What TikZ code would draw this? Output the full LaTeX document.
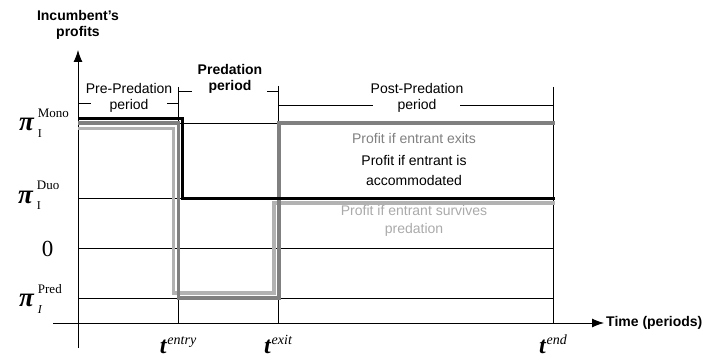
\documentclass[tikz,border=0pt]{standalone}
\usepackage{fontspec}
\setmainfont{Liberation Serif}
\setsansfont{Liberation Sans}
\usetikzlibrary{arrows.meta}
\definecolor{dgray}{RGB}{128,128,128}
\definecolor{lgray}{RGB}{178,178,178}
\definecolor{dgraytext}{RGB}{128,128,128}
\definecolor{lgraytext}{RGB}{170,170,170}
\newcommand\pilabel[2]{{\fontsize{27}{27}\selectfont\bfseries\itshape π}\kern4pt\rlap{\raisebox{13.5pt}{\fontsize{13}{13}\selectfont #1}}\raisebox{-6.5pt}{\fontsize{12}{12}\selectfont #2}}
\newcommand\tlabel[1]{{\fontsize{24}{24}\selectfont\bfseries\itshape t}\kern1pt\raisebox{9pt}{\fontsize{14}{14}\selectfont\itshape #1}}
\begin{document}
\begin{tikzpicture}[x=1pt,y=-1pt,
  gridline/.style={line width=0.8pt},
  axisline/.style={line width=0.9pt},
  profitline/.style={line width=3.6pt, line join=miter, line cap=butt},
  sans/.style={font=\sffamily\fontsize{14}{16}\selectfont, align=center, inner sep=0pt},
  sansb/.style={align=center, inner sep=0pt, font=\sffamily\bfseries\fontsize{14}{16}\selectfont},
  mathlab/.style={inner sep=0pt}]
\useasboundingbox (0,0) rectangle (708,358);

% axes
\coordinate (ybot) at (78,348);
\coordinate (ytop) at (78,50);
\coordinate (xl) at (53,323);
\coordinate (xr) at (604,323);
\draw[axisline,-{Latex[length=12pt,width=9pt]}] (ybot) -- (ytop);
\draw[axisline,-{Latex[length=12pt,width=9pt]}] (xl) -- (xr);

% grid lines
\foreach \yy in {123,198,248,298} \draw[gridline] (78,\yy) -- (553,\yy);
\draw[gridline] (178,87) -- (178,323);
\draw[gridline] (278,86) -- (278,323);
\draw[gridline] (553,87) -- (553,323);

% period brackets
\draw[gridline] (78,103) -- (91,103);
\draw[gridline] (167,103) -- (178,103);
\draw[gridline] (178,91) -- (192,91);
\draw[gridline] (267,91) -- (278,91);
\draw[gridline] (278,105) -- (373,105);
\draw[gridline] (460,105) -- (553,105);

% period labels
\node[sans] (pre) at (129,98) {Pre-Predation\\period};
\node[sansb] (pred) at (230,78.5) {Predation\\period};
\node[sans] (post) at (417,98) {Post-Predation\\period};
\node[sansb] (ylab) at (78,25) {Incumbent’s\\profits};
\node[sansb, anchor=west] (time) at (606,323) {Time (periods)};

% profit paths
\draw[profitline, lgray] (78,128.5) -- (173.5,128.5) -- (173.5,292.7) -- (274,292.7) -- (274,202.7) -- (555,202.7);
\draw[profitline, dgray] (78,123.3) -- (178.3,123.3) -- (178.3,297.7) -- (278.7,297.7) -- (278.7,123.3) -- (555,123.3);
\draw[profitline, black] (78,118.5) -- (182.5,118.5) -- (182.5,198.3) -- (555,198.3);

% profit labels
\node[sans, text=dgraytext] (exits) at (414,138) {Profit if entrant exits};
\node[sans, font=\sffamily\fontsize{14}{20.5}\selectfont] (acc) at (414,170.4) {Profit if entrant is\\accommodated};
\node[sans, text=lgraytext, font=\sffamily\fontsize{14}{18}\selectfont] (surv) at (414,220.5) {Profit if entrant survives\\predation};

% value labels
\node[mathlab, anchor=base west] (pimono) at (19,131) {\pilabel{Mono}{I}};
\node[mathlab, anchor=base west] (piduo) at (18,203) {\pilabel{Duo}{I}};
\node[mathlab, anchor=base west] (pipred) at (19,306.5) {\pilabel{Pred}{\itshape I}};
\node[mathlab, anchor=base] (zero) at (47.5,256) {\fontsize{23}{23}\selectfont 0};

% time labels
\node[mathlab, anchor=base] (tentry) at (178,353) {\tlabel{entry}};
\node[mathlab, anchor=base] (texit) at (278,353) {\tlabel{exit}};
\node[mathlab, anchor=base] (tend) at (553,353) {\tlabel{end}};
\end{tikzpicture}
\end{document}
